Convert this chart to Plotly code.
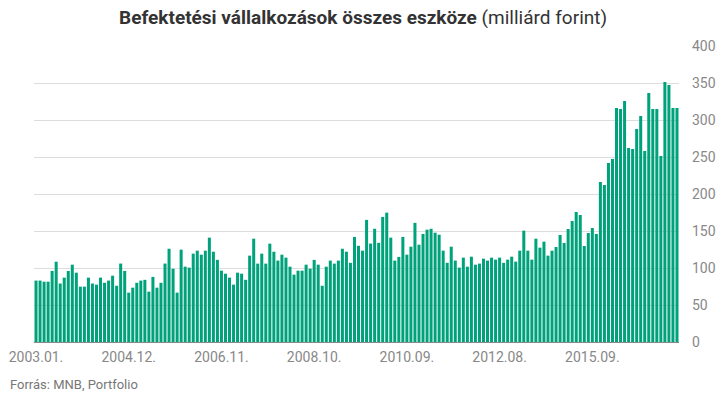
import pandas as pd
import plotly.graph_objects as go

# Period labels: monthly 2003.01-2012.12, then 2014.03 onward
periods_a = pd.period_range("2003-01", "2012-12", freq="M")
periods_b = pd.period_range("2014-03", "2017-06", freq="M")
categories = [f"{p.year}.{p.month:02d}." for p in list(periods_a) + list(periods_b)]

values = [
    83, 83, 81.5, 81.5, 96, 108.5, 79, 87, 96, 104.5, 93.7, 74.8, 74.8, 87, 79, 77.5,
    87, 80, 83, 89.6, 76, 106, 96, 66.7, 73.4, 80, 83, 84, 68, 88, 73.4, 80,
    106, 126, 99, 66.7, 124.8, 101.8, 100.5, 119.4, 123.4, 118, 123.4, 141, 122, 111, 96.4, 92.3,
    87, 77.5, 93.7, 92.3, 84, 116.7, 139.6, 105.9, 119.4, 105.9, 132.9, 122, 110, 118, 114, 101.8,
    91, 96.4, 96.4, 104.5, 99, 111, 104.5, 76, 101.8, 110, 105.9, 110, 126, 122, 107, 142,
    130, 123.4, 165, 133, 153, 134, 169, 174.8, 141, 110, 115, 142, 118, 128.8, 161, 131.5,
    146, 151.8, 153, 147.7, 145, 123.4, 107, 128.8, 110, 100.5, 114, 101.8, 115.3, 104.5, 105.9, 112.6,
    110, 114, 111.3, 114, 107, 111.3, 115.3, 108.6, 123.4, 150.5, 123.4, 111.3, 139.6, 127.5, 135.6, 116.7,
    123.4, 128.4, 144.6, 133.8, 152.7, 163.5, 175.7, 171.6, 129.7, 147.3, 154, 146, 216.2, 212.2, 241.9, 247.3,
    316.2, 314.9, 325.7, 262.2, 260.8, 287.8, 305.4, 258.1, 336.5, 314.9, 314.9, 251.4, 351.4, 347.3, 316.2, 316.2,
]

tick_labels = ["2003.01.", "2004.12.", "2006.11.", "2008.10.", "2010.09.", "2012.08.", "2015.09."]
y_ticks = [0, 50, 100, 150, 200, 250, 300, 350, 400]

title_bold = "Befektetési vállalkozások összes eszköze"
title_rest = " (milliárd forint)"
source_text = "Forrás: MNB, Portfolio"

fig = go.Figure(
    go.Bar(x=categories, y=values, marker=dict(color="#00a27b", line=dict(width=0)))
)

fig.update_layout(
    width=719,
    height=397,
    margin=dict(l=34, r=40, t=46, b=55, autoexpand=False),
    paper_bgcolor="white",
    plot_bgcolor="white",
    bargap=0.25,
    showlegend=False,
    font=dict(family="Roboto", color="#888888"),
    title=dict(
        text=f"<b>{title_bold}</b>{title_rest}",
        x=0.505,
        xanchor="center",
        y=0.957,
        yanchor="middle",
        font=dict(family="Roboto", size=19, color="#333333"),
    ),
    xaxis=dict(
        type="category",
        tickmode="array",
        tickvals=tick_labels,
        ticktext=tick_labels,
        tickangle=0,
        tickfont=dict(size=14, color="#888888"),
        showgrid=False,
        showline=True,
        linecolor="#888888",
        linewidth=1,
        ticks="",
        ticklabelstandoff=2,
        automargin=False,
    ),
    yaxis=dict(
        side="right",
        range=[0, 400],
        tickvals=y_ticks,
        tickfont=dict(size=14, color="#888888"),
        showgrid=True,
        gridcolor="#dddddd",
        gridwidth=1,
        zeroline=False,
        ticks="",
        ticklabelstandoff=12,
        automargin=False,
    ),
    annotations=[
        dict(
            text=source_text,
            xref="paper",
            yref="paper",
            x=0,
            xanchor="left",
            y=-0.145,
            yanchor="middle",
            xshift=-26,
            showarrow=False,
            font=dict(family="Roboto", size=13, color="#777777"),
        )
    ],
)

fig.write_html(
    "out.html",
    config={"displayModeBar": False},
    post_script="document.body.style.margin='0';document.body.style.overflow='hidden';",
)
